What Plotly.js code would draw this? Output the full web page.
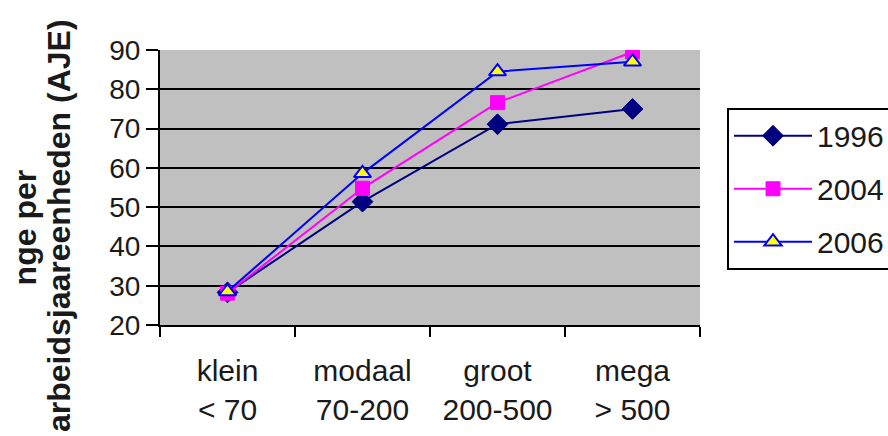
<!DOCTYPE html>
<html>
<head>
<meta charset="utf-8">
<script src="https://cdn.plot.ly/plotly-3.0.1.min.js"></script>
<style>html,body{margin:0;padding:0;background:#fff;}#chart{width:888px;height:436px;}</style>
</head>
<body>
<div id="chart"></div>
<script>
var categories = ["klein<br>&lt; 70", "modaal<br>70-200", "groot<br>200-500", "mega<br>&gt; 500"];
var seriesNames = ["1996", "2004", "2006"];
var values1996 = [28.3, 51.4, 71.1, 75.0];
var values2004 = [28.1, 54.8, 76.6, 89.5];
var values2006 = [28.5, 58.6, 84.5, 87.0];
var yTicks = [20, 30, 40, 50, 60, 70, 80, 90];
var yTitleLines = ["nge per", "arbeidsjaareenheden (AJE)"];

var FONT = '"Liberation Sans", Arial, sans-serif';

var traces = [
  {x: categories, y: values1996, name: seriesNames[0], type: 'scatter', mode: 'lines+markers',
   legendgroup: 'a',
   line: {color: '#000080', width: 2},
   marker: {symbol: 'diamond', size: 16, color: '#000080', line: {color: '#000080', width: 1}}},
  {x: categories, y: values2004, name: seriesNames[1], type: 'scatter', mode: 'lines+markers',
   legendgroup: 'b',
   line: {color: '#FF00FF', width: 2},
   marker: {symbol: 'square', size: 14, color: '#FF00FF', line: {color: '#FF00FF', width: 1}}},
  {x: categories, y: values2006, name: seriesNames[2], type: 'scatter', mode: 'lines+markers',
   legendgroup: 'c',
   line: {color: '#0000FF', width: 2},
   marker: {symbol: 'triangle-up', size: 15, color: '#FFFF00', line: {color: '#0000FF', width: 2}}}
];

var layout = {
  width: 888, height: 436,
  margin: {l: 160, r: 188, t: 50, b: 111, pad: 0, autoexpand: false},
  paper_bgcolor: '#ffffff',
  plot_bgcolor: '#C0C0C0',
  font: {family: FONT, size: 28, color: '#1a1a1a'},
  showlegend: true,
  legend: {
    x: 1.05, xanchor: 'left', y: 0.79, yanchor: 'top',
    bgcolor: '#ffffff', bordercolor: '#000000', borderwidth: 2,
    font: {family: FONT, size: 30, color: '#1a1a1a'},
    itemwidth: 78, traceorder: 'grouped', tracegroupgap: 11
  },
  xaxis: {
    type: 'category',
    range: [-0.5, 3.5],
    tickson: 'boundaries',
    ticks: 'outside', ticklen: 10, tickwidth: 2, tickcolor: '#000',
    showline: true, linecolor: '#000', linewidth: 2,
    showgrid: false, zeroline: false,
    ticklabelstandoff: 18,
    tickfont: {family: FONT, size: 30, color: '#1a1a1a'},
    fixedrange: true
  },
  yaxis: {
    range: [20, 90],
    tickvals: yTicks,
    ticktext: yTicks.map(String),
    ticks: 'outside', ticklen: 12, tickwidth: 2, tickcolor: '#000',
    showline: true, linecolor: '#000', linewidth: 2,
    showgrid: true, gridcolor: '#000', gridwidth: 2,
    zeroline: false,
    tickfont: {family: FONT, size: 28, color: '#1a1a1a'},
    fixedrange: true
  },
  annotations: [
    {
      text: '<b>' + yTitleLines[0] + '</b>',
      xref: 'paper', yref: 'paper',
      x: -0.25, y: 0.355, xanchor: 'center', yanchor: 'middle',
      textangle: -90, showarrow: false,
      font: {family: FONT, size: 32, color: '#1a1a1a'}
    },
    {
      text: '<b>' + yTitleLines[1] + '</b>',
      xref: 'paper', yref: 'paper',
      x: -0.187, y: 0.36, xanchor: 'center', yanchor: 'middle',
      textangle: -90, showarrow: false,
      font: {family: FONT, size: 32, color: '#1a1a1a'}
    }
  ]
};

Plotly.newPlot('chart', traces, layout, {displayModeBar: false, staticPlot: true});
</script>
</body>
</html>
